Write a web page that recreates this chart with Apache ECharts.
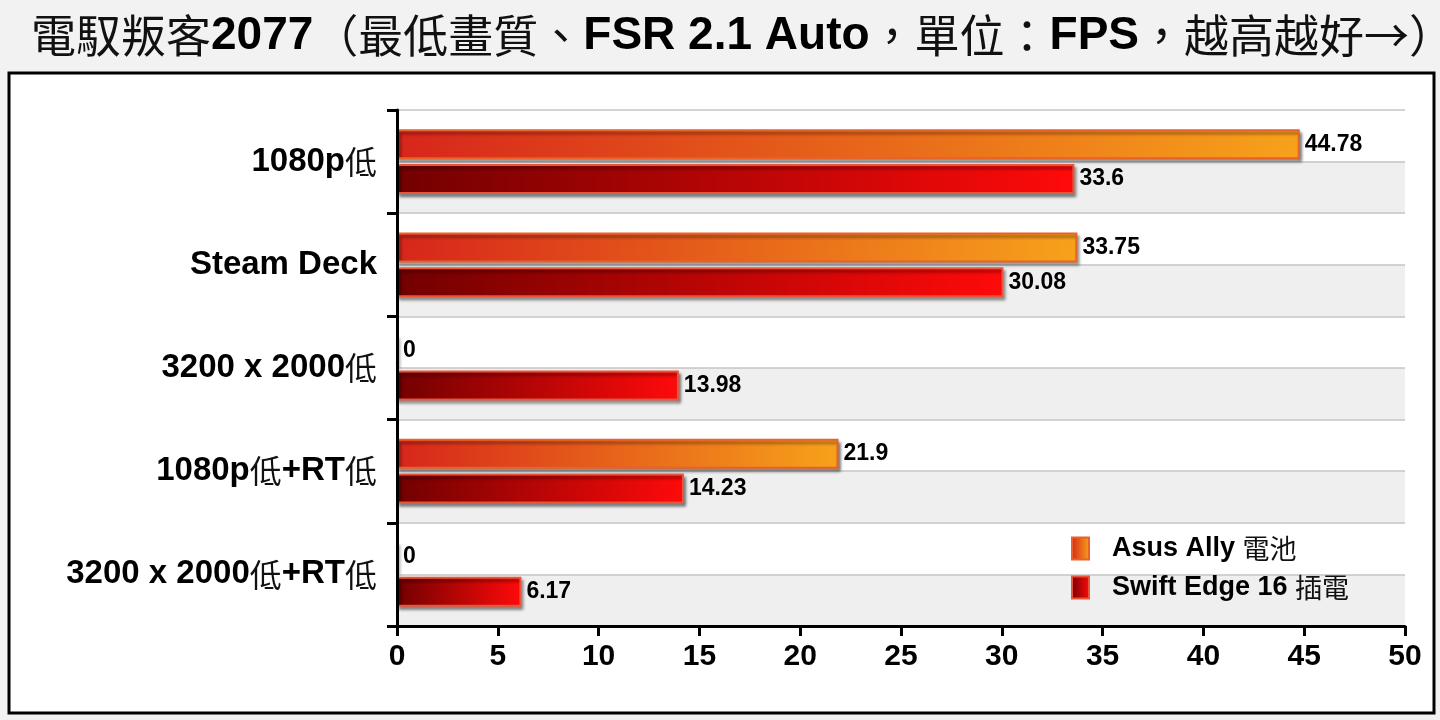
<!DOCTYPE html>
<html>
<head>
<meta charset="utf-8">
<script src="https://cdn.jsdelivr.net/npm/echarts@6/dist/echarts.min.js"></script>
<style>
  html, body { margin: 0; padding: 0; background: #f2f2f2; }
  #main { width: 1440px; height: 720px; }
</style>
</head>
<body>
<div id="main"></div>
<script>
const categories = ['1080p低', 'Steam Deck', '3200 x 2000低', '1080p低+RT低', '3200 x 2000低+RT低'];
const asusAlly = [44.78, 33.75, 0, 21.9, 0];
const swiftEdge = [33.6, 30.08, 13.98, 14.23, 6.17];
const seriesNames = ['Asus Ally 電池', 'Swift Edge 16 插電'];
const bands = ['', '', '', '', '', '', '', '', '', ''];  // half-category stripes

const FONT = '"Liberation Sans", "Noto Sans CJK TC", sans-serif';
const CJK = '"Noto Sans CJK TC", sans-serif';

// CJK glyphs are drawn regular, latin bold
const cjkWrap = s => s.replace(/([\u3000-\u9fff\uff00-\uffef]+)/g, '{c|$1}');

let myChart = echarts.init(document.getElementById('main'));

const grad = (c1, c2) => new echarts.graphic.LinearGradient(0, 0, 1, 0, [
  { offset: 0, color: c1 }, { offset: 1, color: c2 }
]);

let option = {
  backgroundColor: '#f2f2f2',
  animation: false,
  graphic: [{
    type: 'rect',
    shape: { x: 9, y: 73, width: 1425, height: 640 },
    style: { fill: '#ffffff', stroke: '#000', lineWidth: 3 },
    z: -10
  }],
  title: {
    text: '{c|電馭叛客}{b|2077}{c|（最低畫質、}{b|FSR 2.1 Auto}{c|，單位：}{b|FPS}{c|，越高越好→）}',
    left: 26,
    top: 8,
    textStyle: {
      rich: {
        c: { fontFamily: CJK, fontSize: 45, fontWeight: 'normal', color: '#111' },
        b: { fontFamily: '"Liberation Sans"', fontSize: 46, fontWeight: 'bold', color: '#000' }
      }
    }
  },
  legend: {
    orient: 'vertical',
    left: 1066,
    top: 530,
    itemWidth: 17,
    itemHeight: 22,
    itemGap: 12,
    icon: 'rect',
    data: seriesNames,
    formatter: name => cjkWrap(name),
    textStyle: {
      fontFamily: FONT, fontSize: 27, fontWeight: 'bold', color: '#000', padding: [0, 0, 0, 18],
      rich: { c: { fontFamily: CJK, fontSize: 27, fontWeight: 'normal', color: '#111' } }
    }
  },
  grid: { left: 397, right: 35, top: 110, bottom: 94 },
  xAxis: {
    type: 'value',
    min: 0,
    max: 50,
    interval: 5,
    axisLine: { show: true, lineStyle: { color: '#000', width: 3 } },
    axisTick: { show: true, length: 10, lineStyle: { color: '#000', width: 3 } },
    axisLabel: { fontFamily: FONT, fontSize: 30, fontWeight: 'bold', color: '#000', margin: 16 },
    splitLine: { show: false }
  },
  yAxis: [{
    type: 'category',
    data: categories,
    inverse: true,
    z: 5,
    axisLine: { show: true, lineStyle: { color: '#000', width: 3 } },
    axisTick: { show: true, length: 10, lineStyle: { color: '#000', width: 3 } },
    axisLabel: {
      fontFamily: FONT, fontSize: 33, fontWeight: 'bold', color: '#000', margin: 20,
      formatter: v => cjkWrap(v),
      rich: { c: { fontFamily: CJK, fontSize: 32, fontWeight: 'normal', color: '#111' } }
    },
    splitLine: { show: false }
  }, {
    type: 'category',
    data: bands,
    position: 'left',
    z: 0,
    axisLine: { show: false },
    axisTick: { show: false },
    axisLabel: { show: false },
    splitLine: { show: true, lineStyle: { color: '#c4c4c4', width: 1.5 } },
    splitArea: { show: true, areaStyle: { color: ['#efefef', '#ffffff'] } }
  }],
  series: [{
    name: seriesNames[0],
    type: 'bar',
    yAxisIndex: 0,
    data: asusAlly,
    barWidth: 30,
    barGap: '16%',
    itemStyle: {
      color: grad('#d7261b', '#f7a21a'),
      borderColor: '#e8622a',
      borderWidth: 2,
      shadowColor: 'rgba(0,0,0,0.45)',
      shadowBlur: 3,
      shadowOffsetX: 2,
      shadowOffsetY: 3
    },
    label: {
      show: true, position: 'right', distance: 5,
      fontFamily: FONT, fontSize: 23, fontWeight: 'bold', color: '#000'
    }
  }, {
    name: seriesNames[1],
    type: 'bar',
    yAxisIndex: 0,
    data: swiftEdge,
    barWidth: 30,
    itemStyle: {
      color: grad('#720000', '#ff0a0a'),
      borderColor: '#e8553a',
      borderWidth: 2,
      shadowColor: 'rgba(0,0,0,0.45)',
      shadowBlur: 3,
      shadowOffsetX: 2,
      shadowOffsetY: 3
    },
    label: {
      show: true, position: 'right', distance: 5,
      fontFamily: FONT, fontSize: 23, fontWeight: 'bold', color: '#000'
    }
  }]
};

myChart.setOption(option);
</script>
</body>
</html>
